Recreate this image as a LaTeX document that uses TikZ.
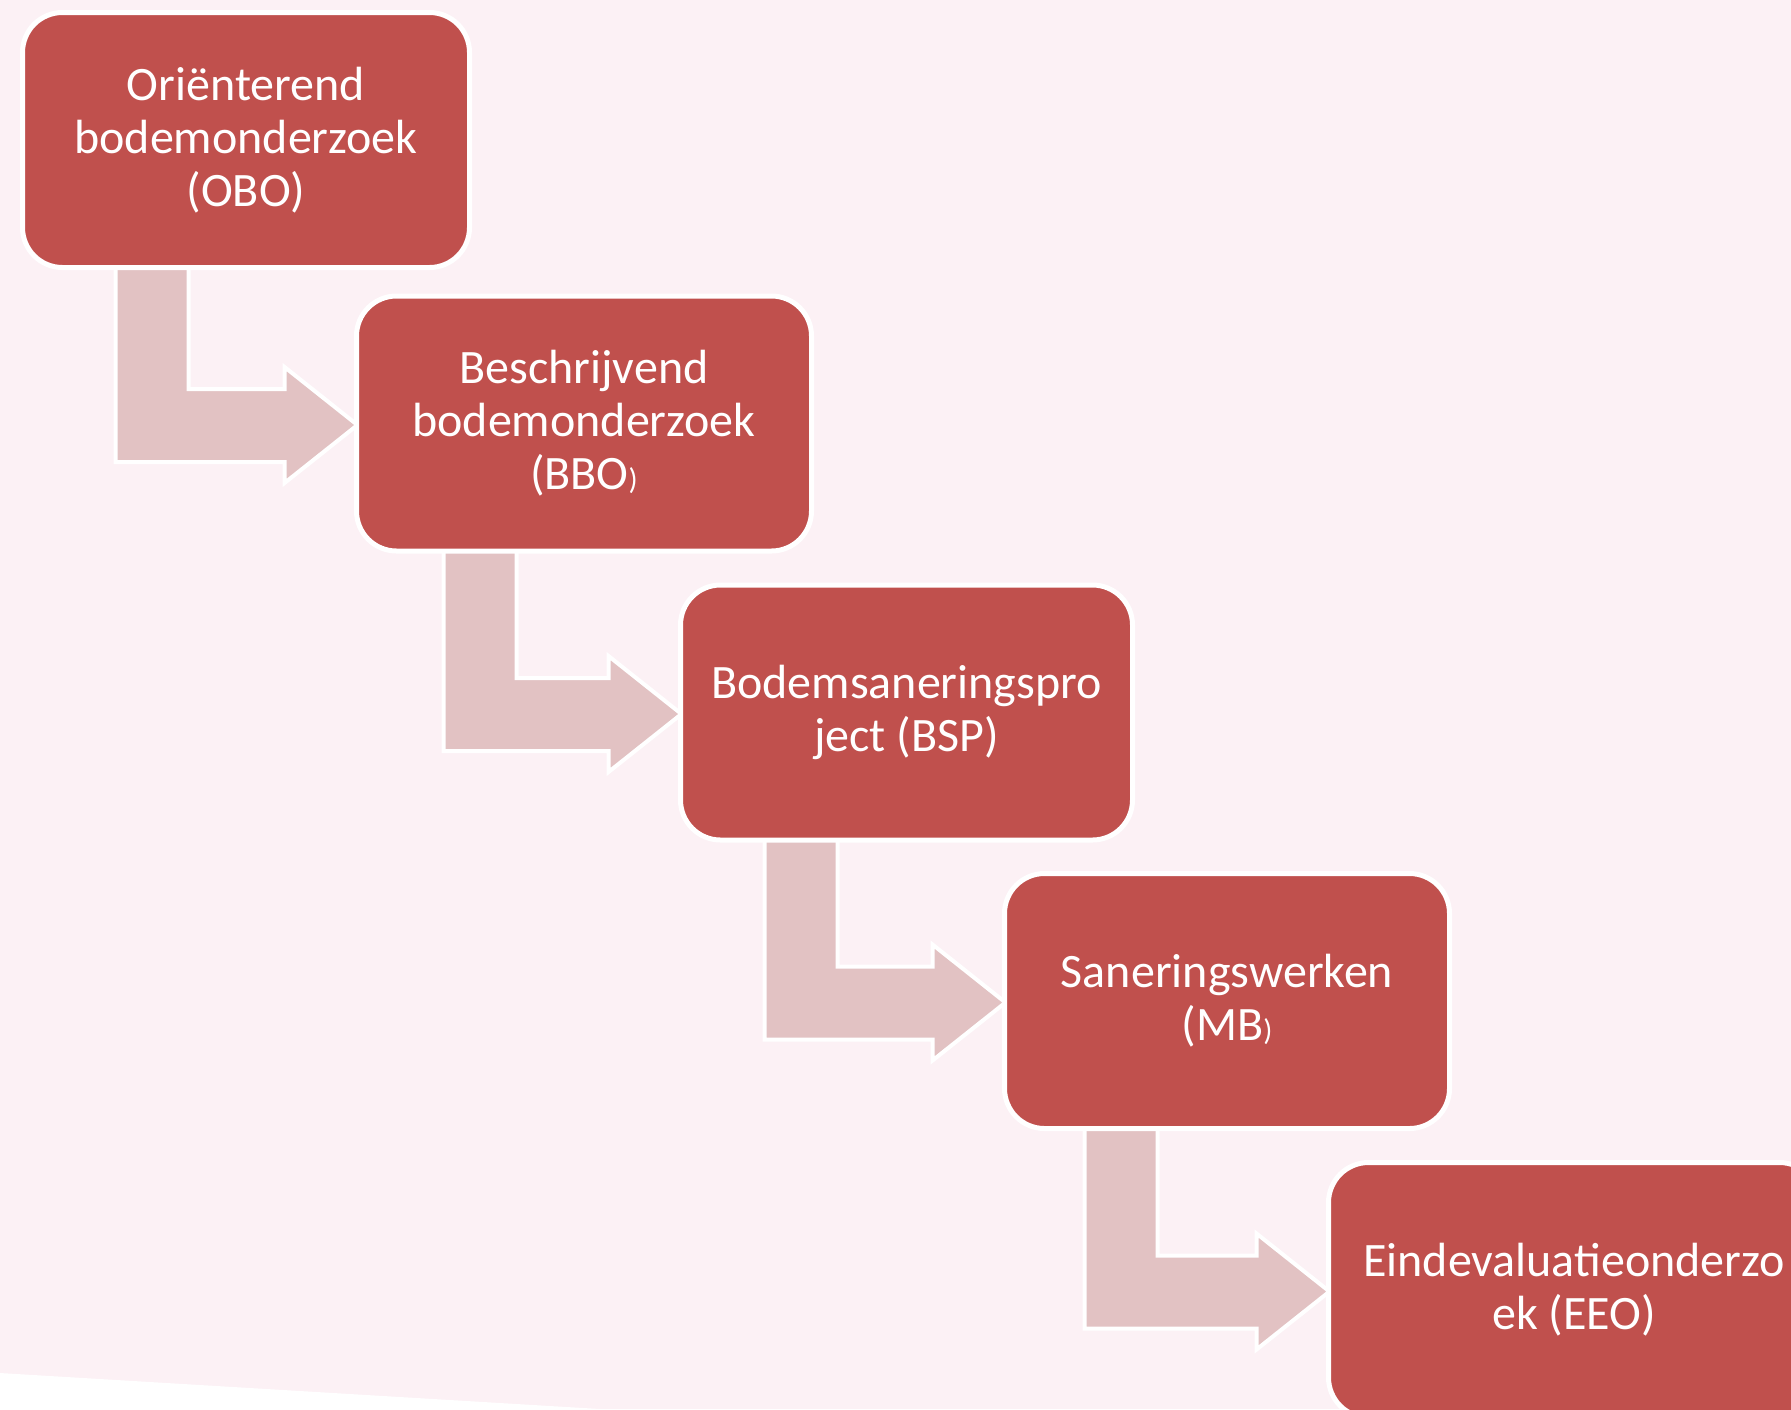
\documentclass[tikz,border=0pt]{standalone}
\usepackage{fontspec}
\setmainfont{Carlito}
\usetikzlibrary{calc}
\definecolor{bgpink}{HTML}{FCF1F5}
\definecolor{boxred}{HTML}{C0504D}
\definecolor{arrowpink}{HTML}{E2C2C3}
\pgfdeclarelayer{backdrop}
\pgfdeclarelayer{arrowlayer}
\pgfsetlayers{backdrop,arrowlayer,main}
% #1 previous box, #2 next box, #3 horizontal shift of the vertical shaft (pt)
\newcommand\bendarrow[3]{%
  \begin{pgfonlayer}{arrowlayer}
  \draw[bentarrow] let \p1=(#2.north west), \p2=(#1.south) in
    (\x1-119.75pt+#3pt,\y2+5pt) -- (\x1-119.75pt+#3pt,\y1-84.25pt) -- (\x1-34.75pt,\y1-84.25pt)
    -- (\x1-34.75pt,\y1-94.75pt) -- (\x1+1.75pt,\y1-65.75pt) -- (\x1-34.75pt,\y1-36.75pt)
    -- (\x1-34.75pt,\y1-47.75pt) -- (\x1-83.25pt+#3pt,\y1-47.75pt) -- (\x1-83.25pt+#3pt,\y2+5pt) -- cycle;
  \end{pgfonlayer}}
\newcommand\smallparen{{\fontsize{15}{15}\selectfont )}}
\begin{document}
\begin{tikzpicture}[x=0.5pt,y=-0.5pt,
  stepbox/.style={draw=white, line width=2.5pt, fill=boxred, rounded corners=20pt,
    minimum height=127.5pt, inner sep=0pt, text=white, align=center,
    font=\fontsize{24}{26.5}\selectfont},
  bentarrow/.style={draw=white, line width=2pt, fill=arrowpink, line join=miter}
]
\useasboundingbox (0,0) rectangle (1791,1409);
\begin{pgfonlayer}{backdrop}
  \fill[bgpink] (0,0) rectangle (1791,1409);
  \fill[white] (0,1373) -- (600,1409) -- (0,1409) -- cycle;
\end{pgfonlayer}

\node[stepbox, minimum width=223.5pt] (b1) at (246,140) {Oriënterend\\bodemonderzoek\\(OBO)};
\node[stepbox, minimum width=227.5pt] (b2) at (584,423.5) {Beschrijvend\\bodemonderzoek\\(BBO\smallparen};
\node[stepbox, minimum width=226pt] (b3) at (906.5,712.5) {Bodemsaneringspro\\ject (BSP)};
\node[stepbox, minimum width=222.5pt] (b4) at (1227,1001) {Saneringswerken\\(MB\smallparen};
\node[stepbox, minimum width=245.5pt] (b5) at (1574,1290) {Eindevaluatieonderzo\\ek (EEO)};

\bendarrow{b1}{b2}{0.5}
\bendarrow{b2}{b3}{2.5}
\bendarrow{b3}{b4}{1}
\bendarrow{b4}{b5}{-1}
\end{tikzpicture}
\end{document}
